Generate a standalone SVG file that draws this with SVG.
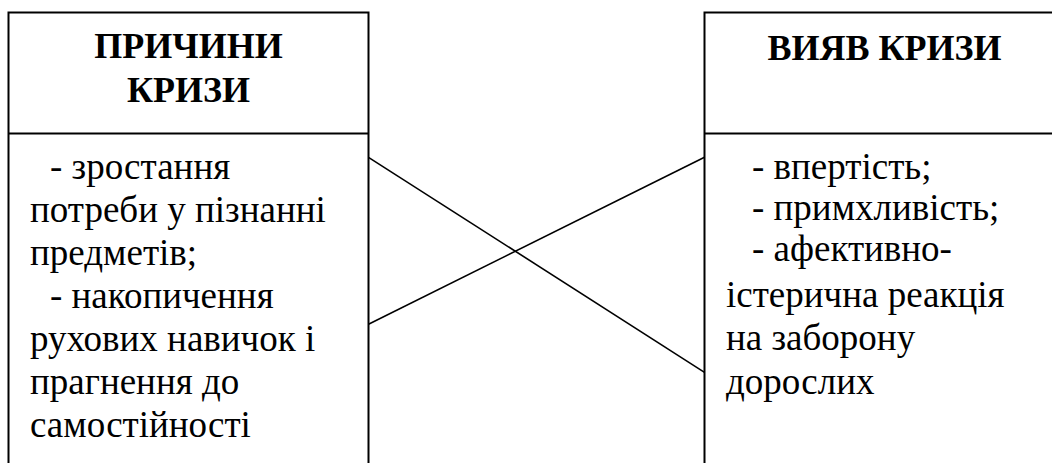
<svg xmlns="http://www.w3.org/2000/svg" width="1052" height="463" viewBox="0 0 1052 463">
<rect width="1052" height="463" fill="#fff"/>
<g id="causes">
<path d="M8.5 470 V12.5 H368.5 V470 M8.5 133.5 H368.5" fill="none" stroke="#000" stroke-width="2"/>
<text x="188.5" y="58" text-anchor="middle" font-family="Times New Roman, Liberation Serif, serif" font-weight="bold" font-size="36">ПРИЧИНИ</text>
<text x="188.5" y="102" text-anchor="middle" font-family="Times New Roman, Liberation Serif, serif" font-weight="bold" font-size="36">КРИЗИ</text>
<text x="50" y="179" font-family="Times New Roman, Liberation Serif, serif" font-size="37">- зростання</text>
<text x="30" y="222" font-family="Times New Roman, Liberation Serif, serif" font-size="37">потреби у пізнанні</text>
<text x="30" y="265" font-family="Times New Roman, Liberation Serif, serif" font-size="37">предметів;</text>
<text x="50" y="308" font-family="Times New Roman, Liberation Serif, serif" font-size="37">- накопичення</text>
<text x="30" y="351" font-family="Times New Roman, Liberation Serif, serif" font-size="37">рухових навичок і</text>
<text x="30" y="394" font-family="Times New Roman, Liberation Serif, serif" font-size="37">прагнення до</text>
<text x="30" y="437" font-family="Times New Roman, Liberation Serif, serif" font-size="37">самостійності</text>
</g>
<g id="manifest">
<path d="M704.5 470 V12.5 H1060 M704.5 133.5 H1060" fill="none" stroke="#000" stroke-width="2"/>
<text x="884.5" y="60" text-anchor="middle" font-family="Times New Roman, Liberation Serif, serif" font-weight="bold" font-size="36">ВИЯВ КРИЗИ</text>
<text x="752" y="179" font-family="Times New Roman, Liberation Serif, serif" font-size="37">- впертість;</text>
<text x="752" y="220" font-family="Times New Roman, Liberation Serif, serif" font-size="37">- примхливість;</text>
<text x="752" y="261" font-family="Times New Roman, Liberation Serif, serif" font-size="37">- афективно-</text>
<text x="726" y="307" font-family="Times New Roman, Liberation Serif, serif" font-size="37">істерична реакція</text>
<text x="726" y="350" font-family="Times New Roman, Liberation Serif, serif" font-size="37">на заборону</text>
<text x="726" y="394" font-family="Times New Roman, Liberation Serif, serif" font-size="37">дорослих</text>
</g>
<g id="connectors" stroke="#000" stroke-width="1.6">
<line x1="368.5" y1="157.3" x2="704.5" y2="372.3"/>
<line x1="368.5" y1="324.3" x2="704.5" y2="157.3"/>
</g>
</svg>
